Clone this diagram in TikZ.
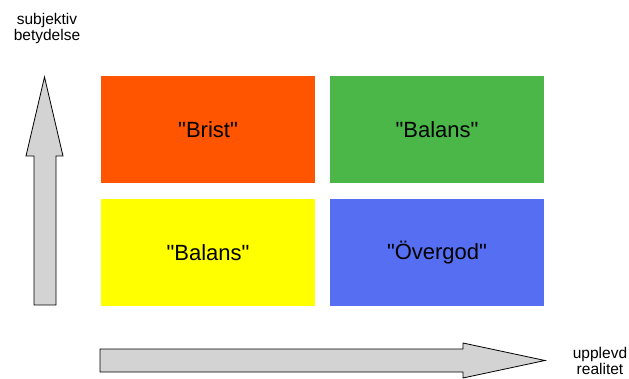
\documentclass[tikz,border=0pt]{standalone}
\usepackage{fontspec}
\newfontfamily\arialfont{Liberation Sans}
\definecolor{cred}{HTML}{FF5400}
\definecolor{cgreen}{HTML}{4AB748}
\definecolor{cyellow}{HTML}{FFFF00}
\definecolor{cblue}{HTML}{566EF2}
\definecolor{carrow}{HTML}{D3D3D3}
\begin{document}
\begin{tikzpicture}[x=1pt,y=-1pt,
  quad/.style={draw=none,minimum width=214pt,minimum height=107pt,inner sep=0pt,
    font=\arialfont\fontsize{22}{26}\selectfont},
  axlabel/.style={align=center,font=\arialfont\fontsize{15.5}{16}\selectfont,inner sep=0pt},
  axarrow/.style={draw=black,fill=carrow,line width=0.8pt,line join=miter}]
\useasboundingbox (0,0) rectangle (629,379);
\node[quad,fill=cred]    (brist)   at (208,129.5) {"Brist"};
\node[quad,fill=cgreen]  (balans1) at (437,129.5) {"Balans"};
\node[quad,fill=cyellow] (balans2) at (208,252.5) {"Balans"};
\node[quad,fill=cblue]   (overgod) at (437,252.5) {"Övergod"};
\draw[axarrow] (34,305) -- (34,156) -- (26,156) -- (44.5,77) -- (63,156) -- (56,156) -- (56,305) -- cycle;
\draw[axarrow] (100,349) -- (463,349) -- (463,343) -- (545,360.5) -- (463,378) -- (463,372) -- (100,372) -- cycle;
\node[axlabel] (ylab) at (47,28) {subjektiv\\betydelse};
\node[axlabel] (xlab) at (600,361) {upplevd\\realitet};
\end{tikzpicture}
\end{document}
